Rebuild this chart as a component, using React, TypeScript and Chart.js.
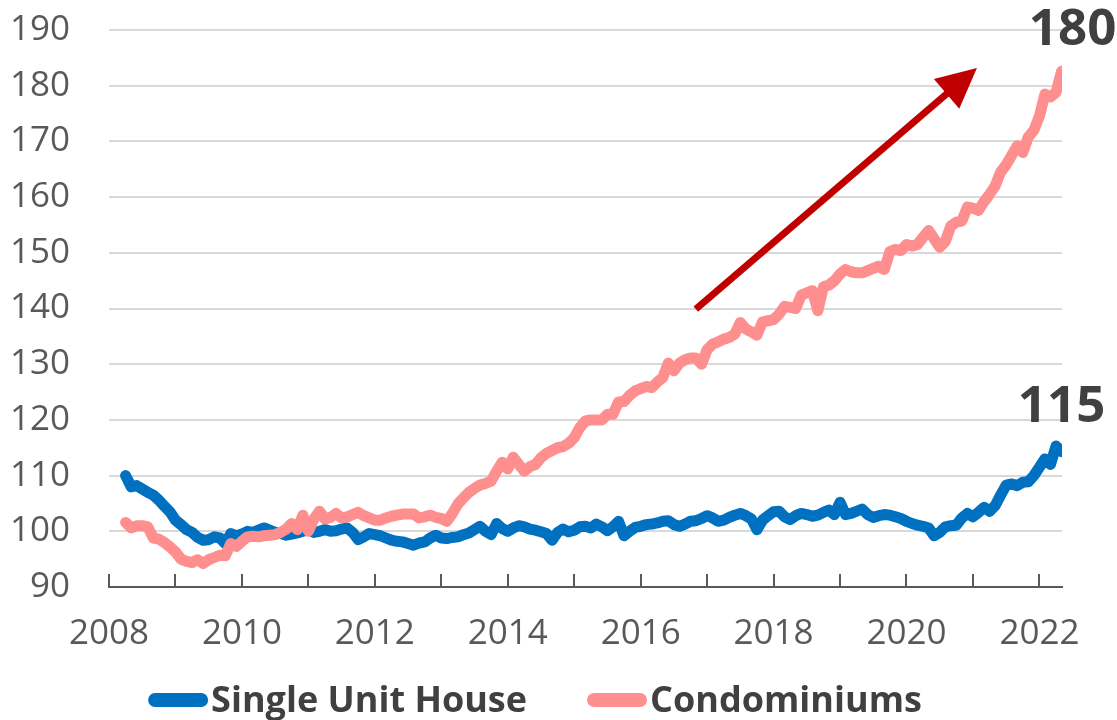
import React, { useEffect, useRef } from "react";
import { Chart, registerables } from "chart.js";

Chart.register(...registerables);

// ---- Data (monthly, starting April 2008) ----
const startYear = 2008;
const startMonthIndex = 3; // April (0-based)

const singleUnitHouse = [
  110.0, 108.0, 108.2, 107.6, 107.0, 106.5, 105.6, 104.5, 103.5, 102.0, 101.2, 100.3,
  99.8, 98.9, 98.4, 98.5, 99.0, 98.8, 97.8, 99.6, 99.2, 99.5, 100.0, 99.8,
  100.2, 100.6, 100.2, 99.8, 99.6, 99.3, 99.5, 99.7, 100.0, 100.3, 99.8, 100.0,
  100.3, 100.0, 100.1, 100.4, 100.6, 99.8, 98.5, 99.0, 99.6, 99.4, 99.2, 98.8,
  98.4, 98.2, 98.1, 97.8, 97.5, 97.9, 98.1, 98.8, 99.3, 98.8, 98.7, 98.9,
  99.0, 99.4, 99.7, 100.3, 100.9, 100.0, 99.4, 101.4, 100.5, 100.0, 100.6, 101.0,
  100.8, 100.4, 100.2, 99.9, 99.6, 98.4, 99.8, 100.4, 99.9, 100.2, 100.8, 100.9,
  100.6, 101.3, 100.8, 100.1, 100.8, 101.8, 99.2, 100.0, 100.7, 100.9, 101.2, 101.3,
  101.5, 101.8, 101.9, 101.2, 100.9, 101.3, 101.8, 101.9, 102.3, 102.8, 102.4, 101.8,
  102.0, 102.5, 102.9, 103.2, 102.8, 102.2, 100.3, 102.0, 102.8, 103.5, 103.6, 102.6,
  102.1, 102.8, 103.2, 103.0, 102.7, 102.9, 103.4, 103.8, 103.0, 105.2, 103.0, 103.2,
  103.6, 104.0, 103.0, 102.5, 102.8, 103.0, 102.9, 102.6, 102.3, 101.8, 101.4, 101.1,
  100.9, 100.6, 99.2, 99.8, 100.8, 101.0, 101.1, 102.4, 103.2, 102.6, 103.4, 104.3,
  103.6, 104.6, 106.5, 108.3, 108.5, 108.2, 108.8, 108.9, 110.0, 111.5, 113.0, 112.0,
  115.3, 114.3,
];

const condominiums = [
  101.6, 100.6, 101.0, 101.0, 100.8, 98.8, 98.6, 98.0, 97.2, 96.3, 95.0, 94.6,
  94.4, 94.9, 94.2, 94.9, 95.3, 95.7, 95.6, 97.8, 97.3, 98.2, 99.0, 99.1,
  99.0, 99.2, 99.3, 99.4, 99.8, 100.4, 101.4, 100.3, 102.9, 100.0, 102.2, 103.6,
  102.2, 102.5, 103.2, 102.4, 102.6, 103.0, 103.4, 102.8, 102.4, 102.0, 102.0, 102.4,
  102.7, 102.9, 103.1, 103.1, 103.1, 102.4, 102.6, 102.9, 102.5, 102.3, 101.8, 103.2,
  104.9, 106.0, 107.0, 107.7, 108.3, 108.6, 109.0, 110.8, 112.4, 111.2, 113.3, 112.0,
  110.8, 111.6, 112.0, 113.2, 114.0, 114.5, 115.0, 115.2, 115.8, 116.8, 118.6, 119.8,
  120.0, 120.0, 120.0, 121.0, 121.0, 123.2, 123.3, 124.4, 125.2, 125.6, 126.0, 125.8,
  126.8, 127.6, 130.2, 128.8, 130.2, 130.8, 131.1, 131.1, 130.0, 132.6, 133.6, 134.0,
  134.5, 134.8, 135.4, 137.5, 136.3, 135.8, 135.2, 137.6, 137.8, 138.0, 139.0, 140.4,
  140.2, 140.0, 142.4, 142.8, 143.2, 139.6, 143.9, 144.2, 145.0, 146.2, 147.0, 146.6,
  146.4, 146.4, 146.8, 147.2, 147.6, 147.0, 150.2, 150.6, 150.4, 151.5, 151.2, 151.5,
  152.8, 154.0, 152.5, 151.0, 152.0, 154.8, 155.5, 155.7, 158.2, 158.0, 157.6, 159.2,
  160.5, 162.0, 164.5, 165.8, 167.5, 169.2, 168.0, 170.8, 172.0, 174.5, 178.5, 178.0,
  178.8, 182.6,
];

const seriesLabels = ["Single Unit House", "Condominiums"];
const seriesColors = ["#0070C0", "#FF8F8F"];
const endLabels = ["115", "180"];

const xMin = 2008;
const xMax = 2022.34;
const yMin = 90;
const yMax = 190;
const yStep = 10;

// Trend arrow, in data units (year, index value)
const arrowFrom = { x: 2016.83, y: 139.9 };
const arrowTo = { x: 2021.06, y: 183.2 };

const FONT = '"Open Sans", "Noto Sans", sans-serif';
const TEXT = "#595959";
const DARK = "#404040";

const toPoints = (arr: number[]) =>
  arr.map((v, i) => ({ x: startYear + (startMonthIndex + i) / 12, y: v }));

const decorPlugin = {
  id: "decor",
  afterDraw(chart: any) {
    const { ctx, chartArea, scales } = chart;
    const xs = scales.x;
    const ys = scales.y;
    ctx.save();

    // inward year tick marks
    ctx.strokeStyle = TEXT;
    ctx.lineWidth = 2;
    for (let yr = Math.ceil(xMin); yr <= Math.floor(xMax); yr++) {
      const px = Math.round(xs.getPixelForValue(yr));
      ctx.beginPath();
      ctx.moveTo(px, chartArea.bottom);
      ctx.lineTo(px, chartArea.bottom - 13);
      ctx.stroke();
    }

    // arrow
    const x1 = xs.getPixelForValue(arrowFrom.x);
    const y1 = ys.getPixelForValue(arrowFrom.y);
    const x2 = xs.getPixelForValue(arrowTo.x);
    const y2 = ys.getPixelForValue(arrowTo.y);
    const dx = x2 - x1;
    const dy = y2 - y1;
    const len = Math.hypot(dx, dy);
    const ux = dx / len;
    const uy = dy / len;
    const headLen = 40;
    const headHalf = 19.5;
    const bx = x2 - ux * headLen;
    const by = y2 - uy * headLen;
    ctx.strokeStyle = "#C00000";
    ctx.fillStyle = "#C00000";
    ctx.lineWidth = 7;
    ctx.lineCap = "butt";
    ctx.beginPath();
    ctx.moveTo(x1, y1);
    ctx.lineTo(bx + ux * 2, by + uy * 2);
    ctx.stroke();
    ctx.beginPath();
    ctx.moveTo(x2, y2);
    ctx.lineTo(bx - uy * headHalf, by + ux * headHalf);
    ctx.lineTo(bx + uy * headHalf, by - ux * headHalf);
    ctx.closePath();
    ctx.fill();

    // end value labels
    ctx.fillStyle = DARK;
    ctx.font = `bold 51px ${FONT}`;
    ctx.textAlign = "center";
    ctx.textBaseline = "alphabetic";
    const offsets = [
      { dx: 0, dy: -30 },
      { dx: 11, dy: -26 },
    ];
    chart.data.datasets.forEach((ds: any, i: number) => {
      const last = ds.data[ds.data.length - 1];
      const px = xs.getPixelForValue(last.x);
      const py = ys.getPixelForValue(last.y);
      ctx.fillText(endLabels[i], px + offsets[i].dx, py + offsets[i].dy);
    });

    // legend
    ctx.font = `bold 36px ${FONT}`;
    ctx.textAlign = "left";
    const boxW = 60;
    const boxH = 14;
    const gap = 3;
    const spacing = 60;
    const items = chart.data.datasets.map((ds: any) => ({
      label: ds.label,
      color: ds.borderColor,
      w: ctx.measureText(ds.label).width,
    }));
    const total =
      items.reduce((s: number, it: any) => s + boxW + gap + it.w, 0) +
      spacing * (items.length - 1);
    let lx = 535 - total / 2;
    const ly = 700;
    items.forEach((it: any) => {
      ctx.fillStyle = it.color;
      ctx.beginPath();
      ctx.roundRect(lx, ly - boxH / 2, boxW, boxH, boxH / 2);
      ctx.fill();
      ctx.fillStyle = DARK;
      ctx.fillText(it.label, lx + boxW + gap, ly + 12);
      lx += boxW + gap + it.w + spacing;
    });

    ctx.restore();
  },
};

export default function App() {
  const canvasRef = useRef<HTMLCanvasElement | null>(null);

  useEffect(() => {
    document.body.style.margin = "0";
    const canvas = canvasRef.current;
    if (!canvas) return;
    const chart = new Chart(canvas, {
      type: "line",
      data: {
        datasets: [
          {
            label: seriesLabels[0],
            data: toPoints(singleUnitHouse),
            borderColor: seriesColors[0],
            backgroundColor: seriesColors[0],
            borderWidth: 11,
            pointRadius: 0,
            tension: 0,
            borderCapStyle: "round",
            borderJoinStyle: "round",
            order: 1,
          },
          {
            label: seriesLabels[1],
            data: toPoints(condominiums),
            borderColor: seriesColors[1],
            backgroundColor: seriesColors[1],
            borderWidth: 11,
            pointRadius: 0,
            tension: 0,
            borderCapStyle: "round",
            borderJoinStyle: "round",
            order: 0,
          },
        ],
      },
      options: {
        animation: false,
        responsive: false,
        maintainAspectRatio: false,
        layout: { padding: { top: 30, right: 55, left: 0, bottom: 0 } },
        plugins: {
          legend: { display: false },
          tooltip: { enabled: false },
        },
        scales: {
          x: {
            type: "linear",
            min: xMin,
            max: xMax,
            grid: { display: false },
            border: { display: true, color: TEXT, width: 2 },
            ticks: {
              stepSize: 1,
              autoSkip: false,
              maxRotation: 0,
              includeBounds: false,
              color: TEXT,
              font: { family: FONT, size: 35 },
              padding: 18,
              callback: (v: any) => (Number(v) % 2 === 0 ? String(v) : ""),
            },
            afterFit: (s: any) => {
              s.height = 133;
            },
          },
          y: {
            min: yMin,
            max: yMax,
            grid: {
              color: "#D9D9D9",
              lineWidth: 2,
              drawTicks: true,
              tickLength: 39,
              tickColor: "rgba(0,0,0,0)",
            },
            border: { display: false },
            ticks: {
              stepSize: yStep,
              color: TEXT,
              font: { family: FONT, size: 35 },
              padding: 0,
            },
            afterFit: (s: any) => {
              s.width = 109;
            },
          },
        },
      },
      plugins: [decorPlugin],
    });
    return () => chart.destroy();
  }, []);

  return (
    <div style={{ position: "absolute", left: 0, top: 0, width: 1117, height: 720 }}>
      <canvas ref={canvasRef} width={1117} height={720} />
    </div>
  );
}
